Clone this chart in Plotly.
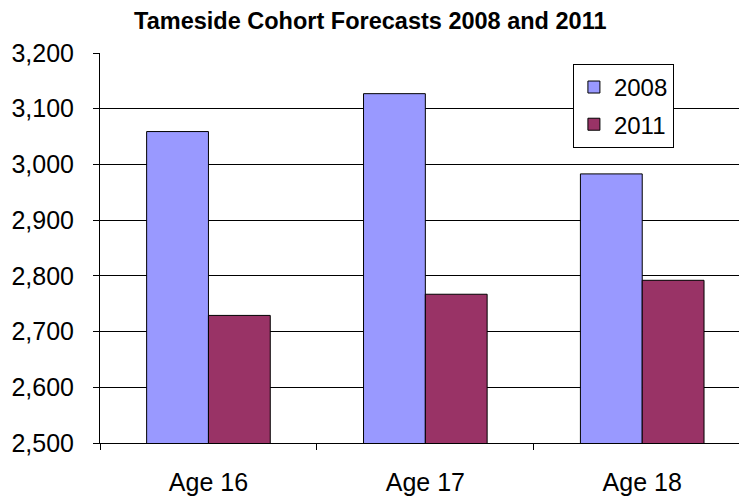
import plotly.graph_objects as go

categories = ["Age 16", "Age 17", "Age 18"]
values_2008 = [3059, 3127, 2983]
values_2011 = [2729, 2767, 2792]
y_ticks = [2500, 2600, 2700, 2800, 2900, 3000, 3100, 3200]

fig = go.Figure()
fig.add_trace(go.Bar(name="2008", x=categories, y=values_2008, legendgroup="a",
                     marker=dict(color="#9999FF", line=dict(color="black", width=1))))
fig.add_trace(go.Bar(name="2011", x=categories, y=values_2011, legendgroup="b",
                     marker=dict(color="#993366", line=dict(color="black", width=1))))

fig.update_layout(
    width=747, height=500,
    margin=dict(l=92, r=0, t=45, b=65, autoexpand=False),
    paper_bgcolor="white", plot_bgcolor="white",
    barmode="group", bargap=0.43, bargroupgap=0,
    font=dict(family="Liberation Sans, Arial", color="black", size=25),
    title=dict(text="<b>Tameside Cohort Forecasts 2008 and 2011</b>",
               x=0.485, xanchor="center", y=0.975, yanchor="middle",
               font=dict(size=23.5, family="Liberation Sans, Arial")),
    legend=dict(x=0.722, y=0.972, xanchor="left", yanchor="top",
                bordercolor="black", borderwidth=1, bgcolor="white",
                font=dict(size=24), tracegroupgap=3, itemwidth=30),
    xaxis=dict(range=[-0.5, 2.52], showline=True, linecolor="black", linewidth=1,
               ticks="outside", tickcolor="black", ticklen=6, automargin=False,
               tickson="boundaries", showgrid=False, tickfont=dict(size=25),
               ticklabelstandoff=17),
    yaxis=dict(range=[2500, 3200], tickvals=y_ticks, tickformat=",d",
               showline=True, linecolor="black", linewidth=1, automargin=False,
               ticks="outside", tickcolor="black", ticklen=6,
               showgrid=True, gridcolor="black", gridwidth=1,
               tickfont=dict(size=25), zeroline=False, ticklabelstandoff=14),
)

fig.write_html("out.html")
